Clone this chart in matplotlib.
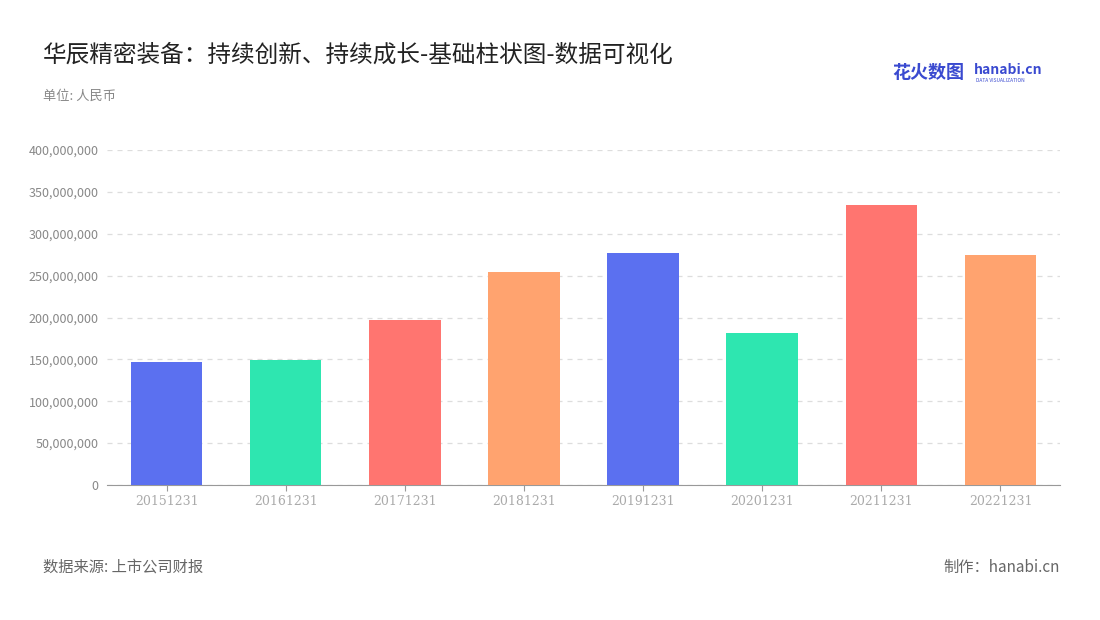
import matplotlib
matplotlib.use("Agg")
import matplotlib.pyplot as plt
from matplotlib.ticker import FuncFormatter

plt.rcParams['font.family'] = ['Noto Sans CJK SC', 'DejaVu Sans']

categories = ["20151231", "20161231", "20171231", "20181231", "20191231", "20201231", "20211231", "20221231"]
values = [147e6, 149e6, 197e6, 254e6, 277e6, 182e6, 334e6, 275e6]
colors = ["#5B70F0", "#2EE6B0", "#FF7570", "#FFA36F", "#5B70F0", "#2EE6B0", "#FF7570", "#FFA36F"]
yticks = [0, 50e6, 100e6, 150e6, 200e6, 250e6, 300e6, 350e6, 400e6]

fig = plt.figure(figsize=(11, 6.2), dpi=100)
ax = fig.add_axes([107/1100, 1-485/620, (1060-107)/1100, 335/620])
ax.bar(range(len(categories)), values, width=0.6, color=colors, zorder=3)
ax.set_xlim(-0.5, len(categories)-0.5)
ax.set_ylim(0, 400e6)
ax.set_yticks(yticks)
ax.yaxis.set_major_formatter(FuncFormatter(lambda v, p: f"{int(v):,}"))
ax.set_xticks(range(len(categories)))
ax.set_xticklabels(categories, family=['DejaVu Serif'])
ax.tick_params(axis='x', colors='#aaaaaa', labelsize=9, length=4, color='#999999')
ax.tick_params(axis='y', colors='#888888', labelsize=9, length=0, pad=6)
ax.grid(axis='y', linestyle=(0, (4, 4)), color='#dddddd', linewidth=0.9, zorder=0)
for s in ['top', 'right', 'left']:
    ax.spines[s].set_visible(False)
ax.spines['bottom'].set_color('#999999')

fig.text(43/1100, 1-55/620, "华辰精密装备：持续创新、持续成长-基础柱状图-数据可视化", fontsize=17, color='#222222', va='center')
fig.text(43/1100, 1-96/620, "单位: 人民币", fontsize=9.5, color='#888888', va='center')
fig.text(43/1100, 1-567/620, "数据来源: 上市公司财报", fontsize=11, color='#666666', va='center')
fig.text(1060/1100, 1-567/620, "制作：hanabi.cn", fontsize=11, color='#666666', va='center', ha='right')
fig.text(892/1100, 1-72/620, "花火数图", fontsize=13, color='#3a4ad0', va='center', weight='bold')
fig.text(974/1100, 1-70/620, "hanabi.cn", fontsize=10, color='#3a4ad0', va='center', weight='bold')
fig.text(976/1100, 1-80/620, "DATA VISUALIZATION", fontsize=3.5, color='#3a4ad0', va='center')

fig.savefig("out.png", dpi=100)
